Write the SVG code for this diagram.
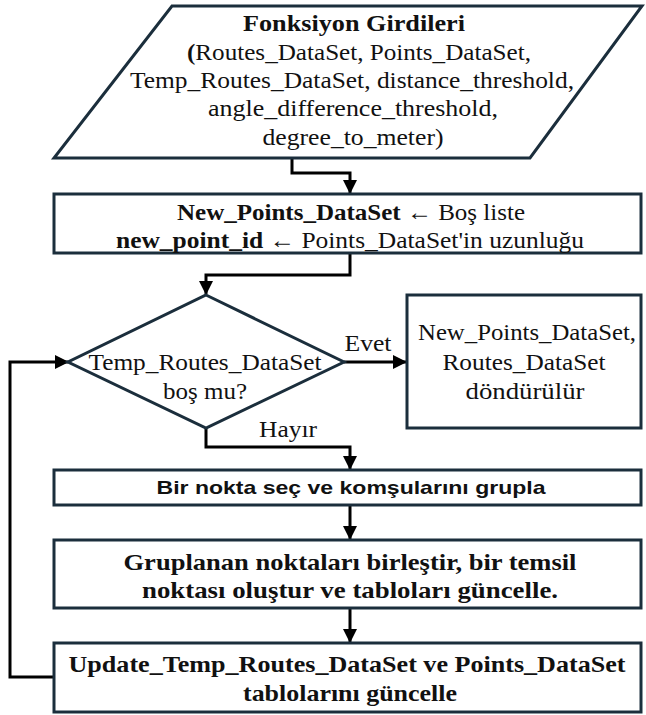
<svg xmlns="http://www.w3.org/2000/svg" width="646" height="715" viewBox="0 0 646 715">
<style>
.shape{fill:#fff;stroke:#1b2e3c;stroke-width:3}
.conn{fill:none;stroke:#000;stroke-width:3}
.t{font-family:"Liberation Serif","DejaVu Serif",serif;font-size:24px;fill:#111;text-anchor:middle}
.b{font-weight:bold}
.s{font-family:"Liberation Sans","DejaVu Sans",sans-serif;font-size:19px;font-weight:bold;fill:#111;text-anchor:middle}
</style>
<defs>
<marker id="arr" markerUnits="userSpaceOnUse" markerWidth="14" markerHeight="14" viewBox="0 0 14 14" refX="13" refY="7" orient="auto">
<path d="M0,0 L14,7 L0,14 Z" fill="#000"/>
</marker>
</defs>
<rect width="646" height="715" fill="#fff"/>
<g id="connectors">
<path class="conn" d="M292,158 V173 H350 V193" marker-end="url(#arr)"/>
<path class="conn" d="M350,253 V275 H206 V294" marker-end="url(#arr)"/>
<path class="conn" d="M344,362 H406" marker-end="url(#arr)"/>
<path class="conn" d="M206,428 V447 H350 V469" marker-end="url(#arr)"/>
<path class="conn" d="M350,505 V539" marker-end="url(#arr)"/>
<path class="conn" d="M350,608 V642" marker-end="url(#arr)"/>
<path class="conn" d="M54,677 H10 V362 H68" marker-end="url(#arr)"/>
<text class="t" x="368" y="351" textLength="47" lengthAdjust="spacingAndGlyphs">Evet</text>
<text class="t" x="288" y="437" textLength="58" lengthAdjust="spacingAndGlyphs">Hayır</text>
</g>
<g id="inputs">
<polygon class="shape" points="172,6 642,6 530,158 54,158"/>
<text class="t b" x="354" y="31" textLength="222" lengthAdjust="spacingAndGlyphs">Fonksiyon Girdileri</text>
<text class="t" x="359" y="60" textLength="344" lengthAdjust="spacingAndGlyphs"><tspan font-weight="bold">(</tspan>Routes_DataSet, Points_DataSet,</text>
<text class="t" x="352" y="88" textLength="444" lengthAdjust="spacingAndGlyphs">Temp_Routes_DataSet, distance_threshold,</text>
<text class="t" x="353" y="116" textLength="290" lengthAdjust="spacingAndGlyphs">angle_difference_threshold,</text>
<text class="t" x="353" y="145" textLength="181" lengthAdjust="spacingAndGlyphs">degree_to_meter)</text>
</g>
<g id="init">
<rect class="shape" x="54" y="194" width="587" height="59"/>
<text class="t" x="351" y="220" textLength="348" lengthAdjust="spacingAndGlyphs"><tspan font-weight="bold">New_Points_DataSet</tspan> ← Boş liste</text>
<text class="t" x="350" y="248" textLength="468" lengthAdjust="spacingAndGlyphs"><tspan font-weight="bold">new_point_id</tspan> ← Points_DataSet'in uzunluğu</text>
</g>
<g id="decision">
<polygon class="shape" points="206,295 344,362 206,428 68,362"/>
<text class="t" x="205" y="370" textLength="233" lengthAdjust="spacingAndGlyphs">Temp_Routes_DataSet</text>
<text class="t" x="205" y="399" textLength="84" lengthAdjust="spacingAndGlyphs">boş mu?</text>
</g>
<g id="result">
<rect class="shape" x="407" y="295" width="234" height="133"/>
<text class="t" x="527" y="340" textLength="218" lengthAdjust="spacingAndGlyphs">New_Points_DataSet,</text>
<text class="t" x="524" y="370" textLength="163" lengthAdjust="spacingAndGlyphs">Routes_DataSet</text>
<text class="t" x="525" y="399" textLength="119" lengthAdjust="spacingAndGlyphs">döndürülür</text>
</g>
<g id="group">
<rect class="shape" x="54" y="470" width="587" height="35"/>
<text class="s" x="351" y="494" textLength="389" lengthAdjust="spacingAndGlyphs">Bir nokta seç ve komşularını grupla</text>
</g>
<g id="merge">
<rect class="shape" x="54" y="540" width="587" height="68"/>
<text class="t b" x="350" y="570" textLength="453" lengthAdjust="spacingAndGlyphs">Gruplanan noktaları birleştir, bir temsil</text>
<text class="t b" x="350" y="598" textLength="416" lengthAdjust="spacingAndGlyphs">noktası oluştur ve tabloları güncelle.</text>
</g>
<g id="update">
<rect class="shape" x="54" y="643" width="587" height="69"/>
<text class="t b" x="347" y="672" textLength="557" lengthAdjust="spacingAndGlyphs">Update_Temp_Routes_DataSet ve Points_DataSet</text>
<text class="t b" x="350" y="701" textLength="214" lengthAdjust="spacingAndGlyphs">tablolarını güncelle</text>
</g>
</svg>
